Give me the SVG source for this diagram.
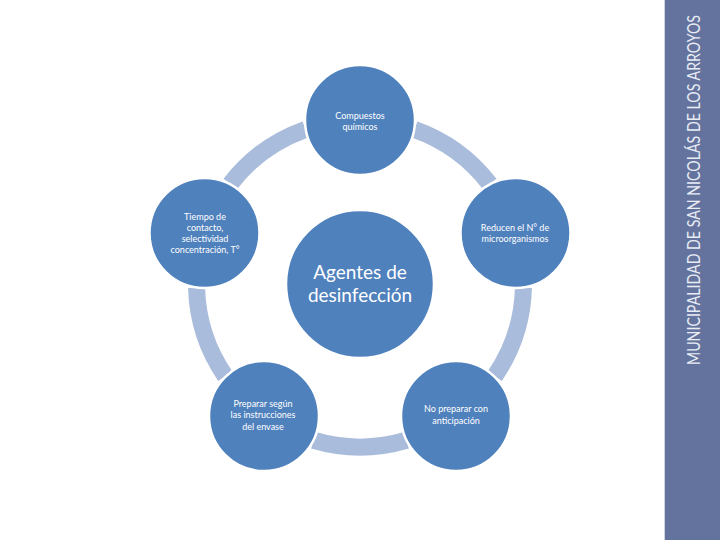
<svg xmlns="http://www.w3.org/2000/svg" width="720" height="540" viewBox="0 0 720 540">
<style>
.arc{fill:none;stroke:#a9bcdb;stroke-width:17;stroke-linecap:butt}
.node{fill:#4f81bd;stroke:#ffffff;stroke-width:2.5}
.t{font-family:Lato,"Open Sans","Liberation Sans",sans-serif;fill:#ffffff;text-anchor:middle;font-size:9px}
.big{font-size:19px}
</style>
<rect x="0" y="0" width="720" height="540" fill="#ffffff"/>
<rect x="665" y="0" width="55" height="540" fill="#64739e"/>
<line x1="664.5" y1="0" x2="664.5" y2="540" stroke="#d0d4dc" stroke-width="1"/>
<text transform="translate(700,190) rotate(-90)" text-anchor="middle" font-family="Lato,'Open Sans','Liberation Sans',sans-serif" font-size="17" fill="#e8ecf4" textLength="350" lengthAdjust="spacingAndGlyphs">MUNICIPALIDAD DE SAN NICOLÁS DE LOS ARROYOS</text>
<g id="connectors">
<path class="arc" d="M414.58 129.39 A163.5 163.5 0 0 1 489.72 183.96"/>
<path class="arc" d="M523.44 287.78 A163.5 163.5 0 0 1 494.74 376.10"/>
<path class="arc" d="M406.43 440.27 A163.5 163.5 0 0 1 313.57 440.27"/>
<path class="arc" d="M225.26 376.10 A163.5 163.5 0 0 1 196.56 287.78"/>
<path class="arc" d="M230.28 183.96 A163.5 163.5 0 0 1 305.42 129.39"/>
</g>
<g id="center">
<circle class="node" cx="360" cy="284" r="74"/>
<text class="t big" x="360" y="279">Agentes de</text>
<text class="t big" x="360" y="302">desinfección</text>
</g>
<g id="n1">
<circle class="node" cx="360" cy="120" r="55"/>
<text class="t" x="360" y="119">Compuestos</text>
<text class="t" x="360" y="130">químicos</text>
</g>
<g id="n2">
<circle class="node" cx="515.5" cy="233" r="55"/>
<text class="t" x="515" y="231">Reducen el N° de</text>
<text class="t" x="515" y="242">microorganismos</text>
</g>
<g id="n3">
<circle class="node" cx="456" cy="416" r="55"/>
<text class="t" x="456" y="412">No preparar con</text>
<text class="t" x="456" y="424">anticipación</text>
</g>
<g id="n4">
<circle class="node" cx="264" cy="416" r="55"/>
<text class="t" x="263" y="407">Preparar según</text>
<text class="t" x="263" y="418">las instrucciones</text>
<text class="t" x="263" y="430">del envase</text>
</g>
<g id="n5">
<circle class="node" cx="204.5" cy="233" r="55"/>
<text class="t" x="205" y="220">Tiempo de</text>
<text class="t" x="205" y="231">contacto,</text>
<text class="t" x="205" y="242">selectividad</text>
<text class="t" x="205" y="253">concentración, T°</text>
</g>
</svg>
